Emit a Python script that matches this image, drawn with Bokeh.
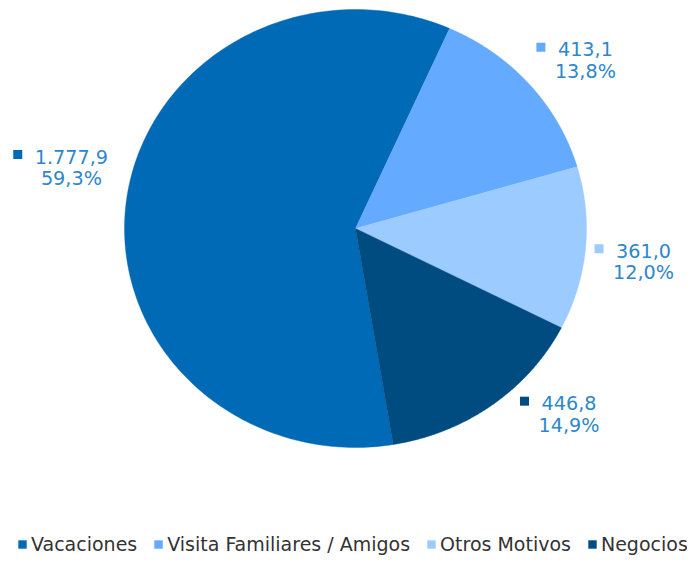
import numpy as np
from bokeh.plotting import figure
from bokeh.models import Range1d, ColumnDataSource, Legend, LegendItem
from bokeh.embed import file_html
from bokeh.resources import INLINE
from bokeh.core.properties import value

# ---- data ----
categories = ["Vacaciones", "Visita Familiares / Amigos", "Otros Motivos", "Negocios"]
values = [1777.9, 413.1, 361.0, 446.8]
colors = ["#006AB6", "#64AAFF", "#9CCCFF", "#004C80"]

# ---- layout / style constants ----
W, H = 687, 555
CX, CY = 355, 228          # pie centre (px)
RX, RY = 231, 219          # pie radii (px)
START_DEG = 170.6          # first slice angle, clockwise from 12 o'clock
LABEL_OFFSETS = [(-55, -44), (56, -35), (58, 2), (77, -2)]
LINE_GAP = 22
FONT = "DejaVu Sans"
LABEL_SIZE = 19.2
LABEL_COLOR = "#2E87CC"


def fmt_num(v):
    s = f"{v:,.1f}"
    return s.replace(",", "X").replace(".", ",").replace("X", ".")


total = sum(values)
value_labels = [fmt_num(v) for v in values]
pct_labels = [f"{v / total * 100:.1f}".replace(".", ",") + "%" for v in values]

p = figure(width=W, height=H, output_backend="svg", toolbar_location=None,
           x_range=Range1d(0, W), y_range=Range1d(H, 0),
           x_axis_location=None, y_axis_location=None, min_border=0,
           outline_line_color=None)
p.grid.visible = False
p.background_fill_color = "white"
p.border_fill_color = "white"

xs, ys = [], []
mids = []
a0 = START_DEG
for v in values:
    span = v / total * 360.0
    t = np.radians(np.linspace(a0, a0 + span, 200))
    xs.append([CX] + list(CX + RX * np.sin(t)))
    ys.append([CY] + list(CY - RY * np.cos(t)))
    mids.append(np.radians(a0 + span / 2))
    a0 += span

src = ColumnDataSource(dict(xs=xs, ys=ys, color=colors, cat=categories))
r = p.patches("xs", "ys", source=src, fill_color="color", line_color="color",
              line_width=0.4)

# data labels
char_w = {".": 0.318, ",": 0.318, "%": 0.95}
tx, ty1, ty2, sqx, sqy = [], [], [], [], []
for m, (dx, dy), lab in zip(mids, LABEL_OFFSETS, value_labels):
    ex = CX + RX * np.sin(m)
    ey = CY - RY * np.cos(m)
    cx, cy = ex + dx, ey + dy
    tx.append(cx)
    ty1.append(cy)
    ty2.append(cy + LINE_GAP)
    wtxt = sum(char_w.get(c, 0.636) for c in lab) * LABEL_SIZE
    sqx.append(cx - wtxt / 2 - 17)
    sqy.append(cy - 2)

lsrc = ColumnDataSource(dict(x=tx, y1=ty1, y2=ty2, v=value_labels, pc=pct_labels,
                             sx=sqx, sy=sqy, color=colors))
p.text("x", "y1", text="v", source=lsrc, text_align="center", text_baseline="middle",
       text_font=value(FONT), text_font_size=f"{LABEL_SIZE}px", text_color=LABEL_COLOR)
p.text("x", "y2", text="pc", source=lsrc, text_align="center", text_baseline="middle",
       text_font=value(FONT), text_font_size=f"{LABEL_SIZE}px", text_color=LABEL_COLOR)
p.scatter("sx", "sy", source=lsrc, marker="square", size=9, fill_color="color",
          line_color=None)

legend = Legend(items=[LegendItem(label=c, renderers=[r], index=i)
                       for i, c in enumerate(categories)],
                orientation="horizontal", location=(17, 0),
                glyph_width=10, glyph_height=10, label_standoff=4, spacing=16,
                padding=0, margin=0, border_line_alpha=0, background_fill_alpha=0,
                label_text_font=FONT, label_text_font_size="19px",
                label_text_color="#333333")
p.add_layout(legend)

open("out.html", "w").write(file_html(p, INLINE))
